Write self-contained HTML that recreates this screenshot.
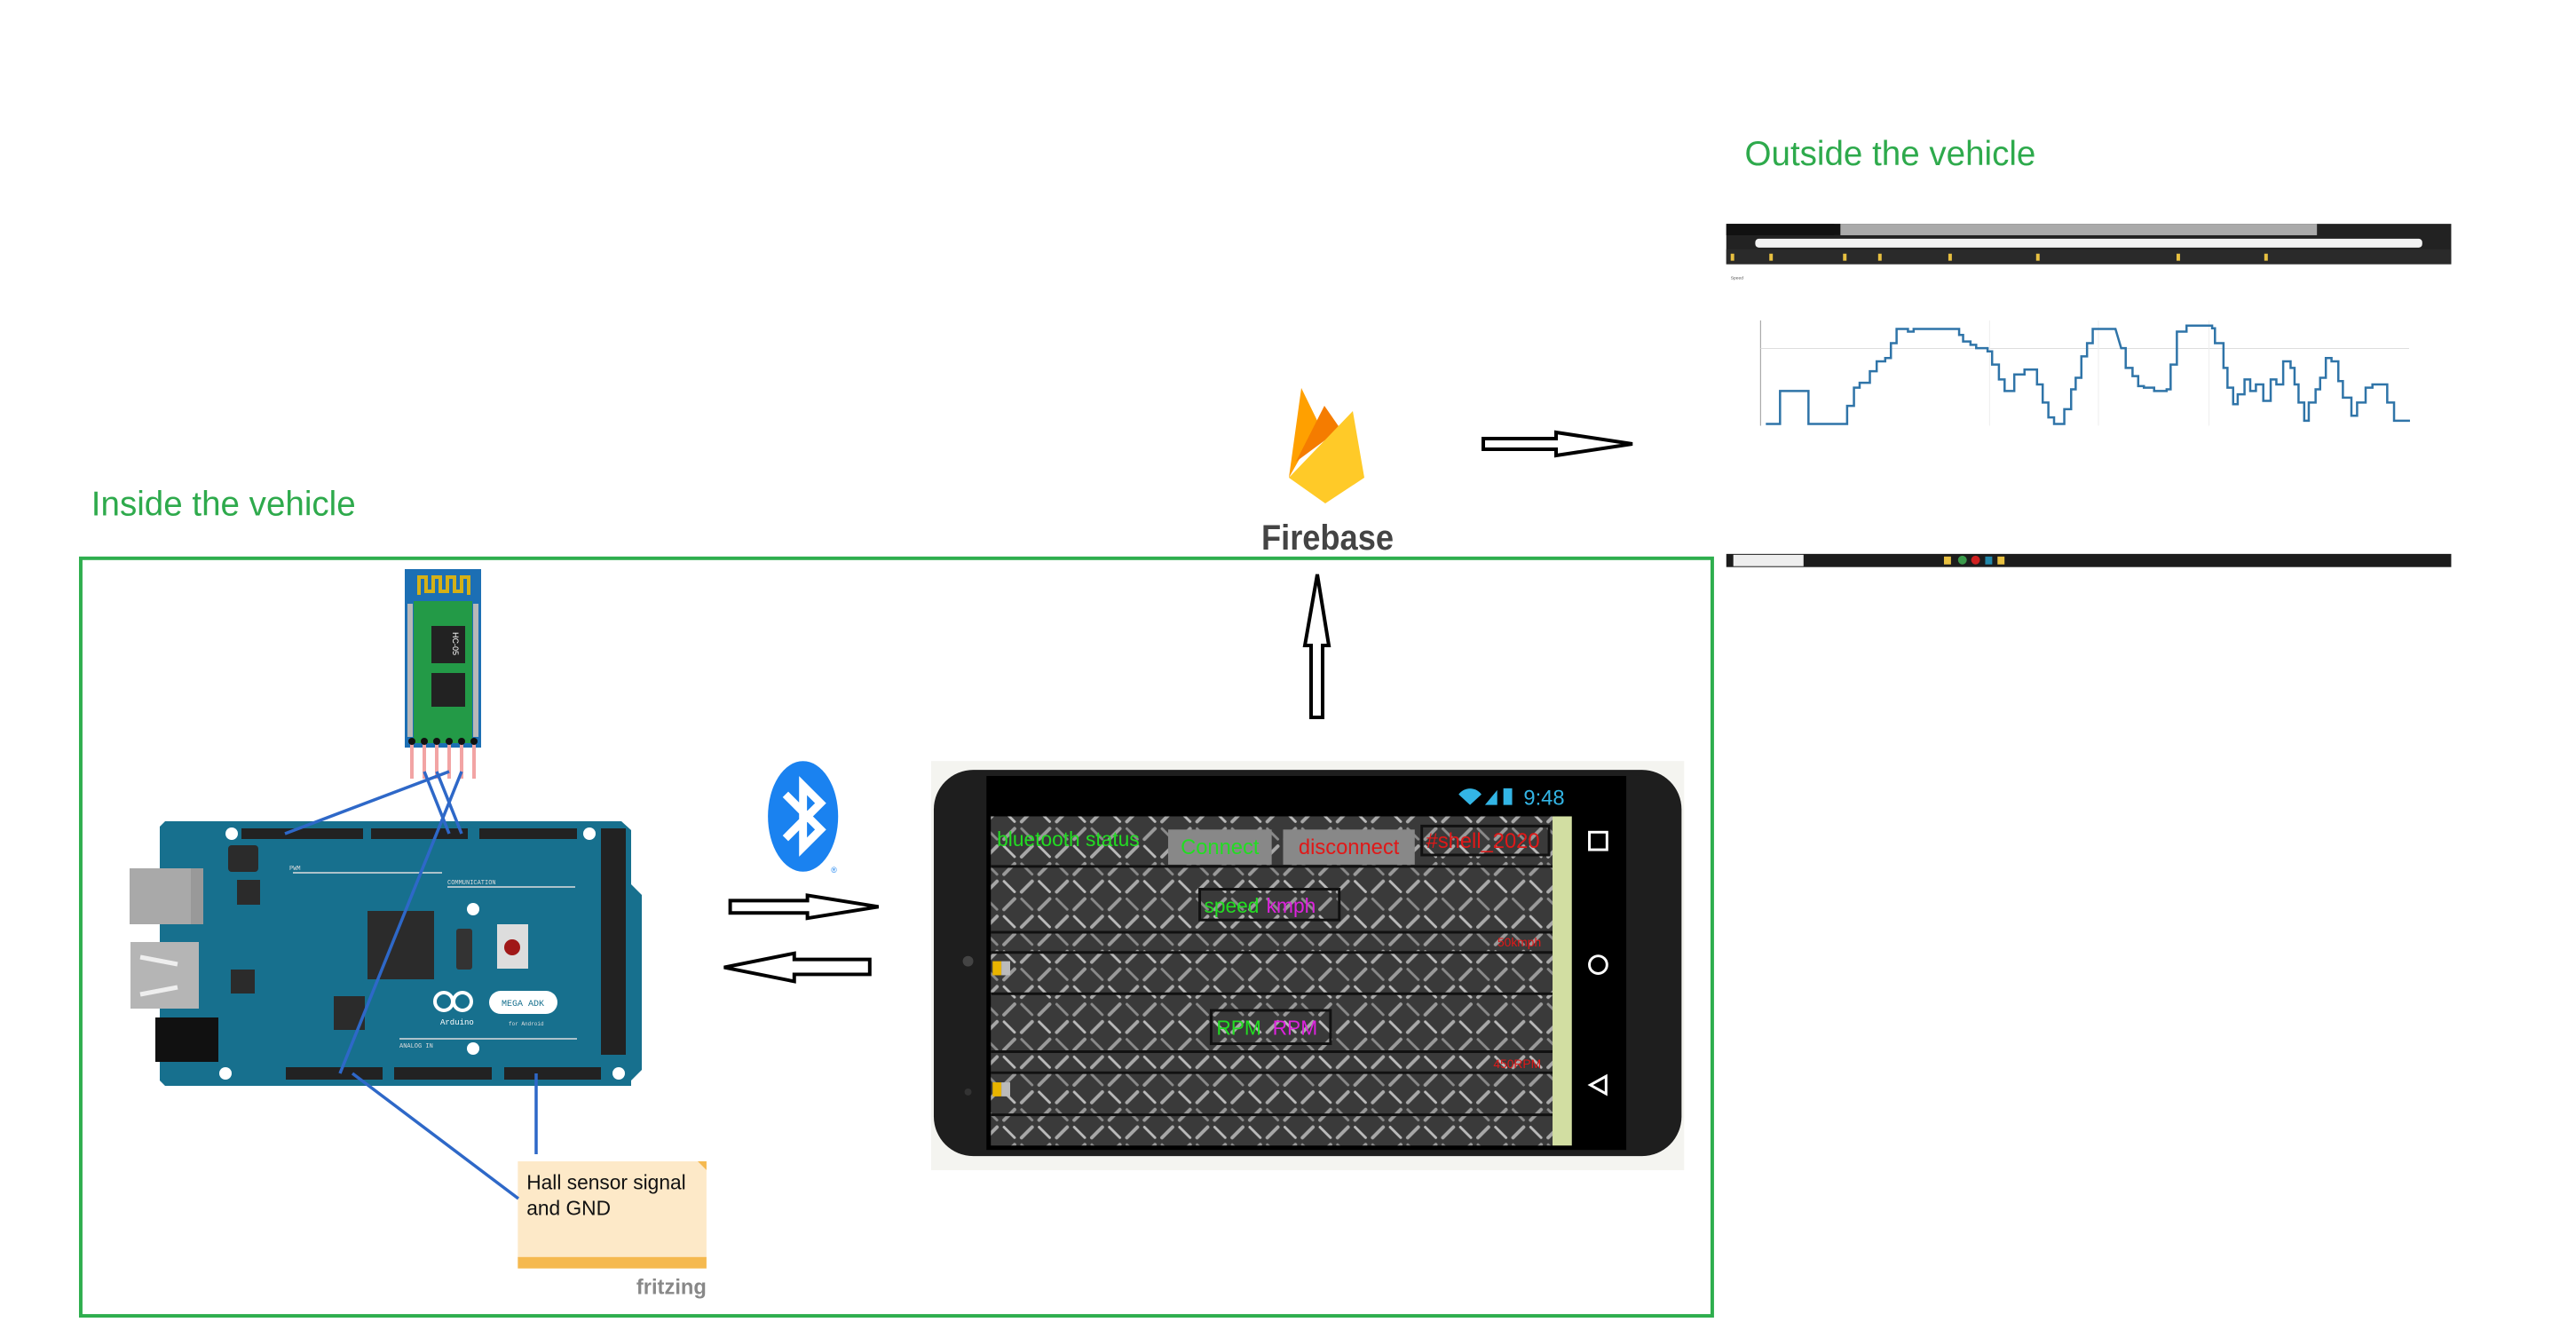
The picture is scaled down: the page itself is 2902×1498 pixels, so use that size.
<!DOCTYPE html>
<html><head><meta charset="utf-8"><style>html,body{margin:0;padding:0;background:#fff}svg{display:block}</style></head>
<body>
<svg width="2902" height="1498" viewBox="0 0 2902 1498" xmlns="http://www.w3.org/2000/svg" font-family="Liberation Sans, sans-serif">
<defs>
<pattern id="metal" width="40" height="40" patternUnits="userSpaceOnUse">
<rect width="40" height="40" fill="#3a3a3a"/>
<line x1="4" y1="16" x2="16" y2="4" stroke="#a8a8a8" stroke-width="4" stroke-linecap="round"/>
<line x1="24" y1="36" x2="36" y2="24" stroke="#9a9a9a" stroke-width="4" stroke-linecap="round"/>
<line x1="24" y1="4" x2="36" y2="16" stroke="#bbbbbb" stroke-width="3" stroke-linecap="round"/>
<line x1="4" y1="24" x2="16" y2="36" stroke="#8a8a8a" stroke-width="3" stroke-linecap="round"/>
</pattern>
</defs>
<rect width="2902" height="1498" fill="#fff"/>

<g transform="scale(0.9887)">
<text x="104" y="587" font-size="39" fill="#2eaa4c">Inside the vehicle</text>
<text x="1988" y="188" font-size="39" fill="#2eaa4c">Outside the vehicle</text>

<rect x="92" y="636" width="1859" height="863" fill="none" stroke="#2fae4e" stroke-width="4"/>

<rect x="590" y="1323" width="215" height="110" fill="#fde9c8"/>
<rect x="590" y="1432" width="215" height="13" fill="#f5b94f"/>
<polygon points="795,1323 805,1323 805,1333" fill="#f5b94f"/>
<text x="600" y="1355" font-size="23" fill="#111">Hall sensor signal</text>
<text x="600" y="1384" font-size="23" fill="#111">and GND</text>
<text x="805" y="1474" font-size="24" fill="#888" text-anchor="end" font-weight="bold">fritzing</text>

<ellipse cx="915" cy="930" rx="40" ry="63" fill="#1a82f0"/>
<path d="M895,905 L935,945 L915,965 V895 L935,915 L895,955" fill="none" stroke="#fff" stroke-width="9" stroke-linejoin="miter"/>
<text x="947" y="994" font-size="9" fill="#1a82f0">®</text>

<g fill="#fff" stroke="#000" stroke-width="4" stroke-linejoin="miter">
<polygon points="832,1026 920,1026 920,1020 1001,1033 920,1046 920,1040 832,1040"/>
<polygon points="991,1093 905,1093 905,1086 825,1102 905,1118 905,1110 991,1110"/>
</g>

<rect x="1061" y="867" width="858" height="466" fill="#f4f4f0"/>
<rect x="1064" y="877" width="852" height="440" rx="45" fill="#1e1e1e"/>
<rect x="1124" y="884" width="729" height="426" fill="#000"/>
<rect x="1129" y="930" width="640" height="375" fill="url(#metal)"/>
<g fill="none" stroke="#111" stroke-width="3">
<line x1="1129" y1="987" x2="1769" y2="987"/><line x1="1129" y1="1062" x2="1769" y2="1062"/>
<line x1="1129" y1="1085" x2="1769" y2="1085"/><line x1="1129" y1="1132" x2="1769" y2="1132"/>
<line x1="1129" y1="1198" x2="1769" y2="1198"/><line x1="1129" y1="1222" x2="1769" y2="1222"/><line x1="1129" y1="1270" x2="1769" y2="1270"/>
</g>
<rect x="1769" y="930" width="22" height="375" fill="#d2dea2"/>
<text x="1136" y="964" font-size="23" fill="#22dd22">bluetooth status</text>
<rect x="1331" y="945" width="118" height="40" fill="#888"/>
<text x="1390" y="973" font-size="24" fill="#22dd22" text-anchor="middle">Connect</text>
<rect x="1462" y="945" width="150" height="40" fill="#888"/>
<text x="1537" y="973" font-size="24" fill="#e01818" text-anchor="middle">disconnect</text>
<rect x="1620" y="941" width="145" height="33" fill="none" stroke="#111" stroke-width="3"/>
<text x="1625" y="966" font-size="24" fill="#e01818">#shell_2020</text>
<rect x="1367" y="1013" width="159" height="35" fill="none" stroke="#111" stroke-width="3"/>
<text x="1372" y="1040" font-size="23" fill="#22dd22">speed</text><text x="1443" y="1040" font-size="23" fill="#dd22dd">kmph</text>
<text x="1756" y="1078" font-size="14" fill="#e01818" text-anchor="end">50kmph</text>
<rect x="1380" y="1151" width="136" height="38" fill="none" stroke="#111" stroke-width="3"/>
<text x="1386" y="1179" font-size="23" fill="#22dd22">RPM</text><text x="1450" y="1179" font-size="23" fill="#dd22dd">RPM</text>
<text x="1756" y="1217" font-size="14" fill="#e01818" text-anchor="end">450RPM</text>
<rect x="1131" y="1095" width="10" height="16" fill="#e8b400"/><rect x="1141" y="1095" width="10" height="16" fill="#bbb"/>
<rect x="1131" y="1233" width="10" height="16" fill="#e8b400"/><rect x="1141" y="1233" width="10" height="16" fill="#bbb"/>
<text x="1736" y="917" font-size="24" fill="#33b5e5">9:48</text>
<path d="M1662,905 a16,16 0 0 1 26,0 l-13,12z" fill="#33b5e5"/>
<polygon points="1692,917 1706,917 1706,900" fill="#33b5e5"/>
<rect x="1713" y="898" width="10" height="19" fill="#33b5e5"/>
<rect x="1811" y="948" width="20" height="20" fill="none" stroke="#fff" stroke-width="3"/>
<circle cx="1821" cy="1099" r="10" fill="none" stroke="#fff" stroke-width="3"/>
<polygon points="1812,1236 1830,1226 1830,1246" fill="none" stroke="#fff" stroke-width="3"/>
<circle cx="1103" cy="1095" r="6" fill="#444"/><circle cx="1103" cy="1244" r="4" fill="#333"/>

<rect x="1967" y="255" width="826" height="46" fill="#222"/>
<rect x="2090" y="255" width="550" height="13" fill="#aaa"/>
<rect x="1967" y="255" width="130" height="13" fill="#111"/>
<rect x="2000" y="272" width="760" height="10" rx="4" fill="#f2f2f2"/>
<rect x="1967" y="284" width="826" height="17" fill="#2a2a2a"/>
<g fill="#e8c040"><rect x="1972" y="289" width="4" height="8"/><rect x="2016" y="289" width="4" height="8"/><rect x="2100" y="289" width="4" height="8"/><rect x="2140" y="289" width="4" height="8"/><rect x="2220" y="289" width="4" height="8"/><rect x="2320" y="289" width="4" height="8"/><rect x="2480" y="289" width="4" height="8"/><rect x="2580" y="289" width="4" height="8"/></g>
<text x="1972" y="318" font-size="5" fill="#555">Speed</text>
<line x1="2006" y1="365" x2="2006" y2="485" stroke="#999" stroke-width="1"/>
<line x1="2006" y1="397" x2="2745" y2="397" stroke="#ddd" stroke-width="1"/>
<line x1="2267" y1="365" x2="2267" y2="485" stroke="#eee" stroke-width="1"/>
<line x1="2391" y1="365" x2="2391" y2="485" stroke="#eee" stroke-width="1"/>
<line x1="2517" y1="365" x2="2517" y2="485" stroke="#eee" stroke-width="1"/>
<g transform="translate(1918.1,99.6) scale(0.6478,0.3759)">
<polyline fill="none" stroke="#2f74a8" stroke-width="2.5" vector-effect="non-scaling-stroke" points="145,1020 170,1020 170,920 220,920 220,1020 288,1020 288,965 300,965 300,910 310,910 310,895 328,895 328,860 340,860 340,830 355,830 355,820 365,820 365,775 375,775 375,732 395,732 395,740 405,740 405,732 485,732 485,750 492,750 492,770 505,770 505,780 515,780 515,790 535,790 535,800 543,800 543,840 555,840 555,885 565,885 565,920 582,920 582,870 600,870 600,855 622,855 622,900 632,900 632,955 642,955 642,1000 652,1000 652,1020 670,1020 670,975 682,975 682,915 690,915 690,880 700,880 700,815 710,815 710,775 720,775 720,732 760,732 770,790 778,790 778,850 790,850 790,875 800,875 800,905 810,905 810,910 828,910 828,920 850,920 850,915 857,915 857,840 868,840 868,740 885,740 885,722 930,722 930,730 935,730 935,775 950,775 950,850 957,850 957,910 967,910 967,960 975,960 975,930 987,930 987,885 997,885 997,920 1007,920 1007,900 1020,900 1020,950 1033,950 1033,885 1043,885 1043,900 1055,900 1055,830 1068,830 1068,850 1075,850 1075,900 1082,900 1082,955 1092,955 1092,1010 1100,1010 1100,955 1112,955 1112,915 1120,915 1120,880 1130,880 1130,820 1140,820 1140,830 1152,830 1152,890 1160,890 1160,940 1175,940 1175,995 1185,995 1185,955 1200,955 1200,910 1212,910 1212,900 1238,900 1238,955 1250,955 1250,1010 1278,1010"/>
</g>
<rect x="1967" y="631" width="826" height="15" fill="#1c1c1c"/>
<rect x="1975" y="632" width="80" height="13" fill="#eee"/>
<g><rect x="2215" y="634" width="8" height="9" fill="#e8c040"/><circle cx="2236" cy="638" r="5" fill="#3a9a4a"/><circle cx="2251" cy="638" r="5" fill="#d02020"/><rect x="2262" y="634" width="8" height="9" fill="#28a"/><rect x="2276" y="634" width="8" height="9" fill="#e8c040"/></g>
</g>

<!-- top arrows (absolute) -->
<g fill="#fff" stroke="#000" stroke-width="4" stroke-linejoin="miter">
<polygon points="1671,494 1753,494 1753,487 1839,500 1753,513 1753,506 1671,506"/>
<polygon points="1477,808 1477,727 1470,727 1484,647 1497,727 1490,727 1490,808"/>
</g>

<!-- Firebase -->
<polygon points="1452,538 1466,437 1486,478" fill="#ffa000"/>
<polygon points="1460,520 1492,457 1510,483" fill="#f57c00"/>
<polygon points="1452,538 1524,463 1537,538 1493,567" fill="#ffca28"/>
<text x="1421" y="619" font-size="40" fill="#444" textLength="149" lengthAdjust="spacingAndGlyphs" font-weight="bold">Firebase</text>

<!-- Arduino board -->
<polygon points="186,925 700,925 711,935 711,996 723,1008 723,1205 711,1217 711,1223 186,1223 180,1217 180,931" fill="#17708e"/>
<rect x="146" y="978" width="83" height="63" fill="#a9a9a9"/><rect x="215" y="978" width="14" height="63" fill="#999"/>
<rect x="147" y="1061" width="77" height="75" fill="#b5b5b5"/>
<path d="M158,1078 L200,1086 M158,1120 L200,1112" stroke="#eee" stroke-width="5"/>
<rect x="175" y="1146" width="71" height="50" fill="#111"/>
<rect x="414" y="1026" width="75" height="77" fill="#2b2b2b"/>
<rect x="267" y="991" width="26" height="28" fill="#2b2b2b"/>
<rect x="260" y="1092" width="27" height="27" fill="#2b2b2b"/>
<rect x="376" y="1122" width="35" height="38" fill="#2b2b2b"/>
<rect x="257" y="952" width="34" height="30" rx="4" fill="#2b2b2b"/>
<rect x="514" y="1046" width="18" height="46" rx="3" fill="#333"/>
<g fill="#222"><rect x="272" y="933" width="137" height="12"/><rect x="418" y="933" width="109" height="12"/><rect x="540" y="933" width="110" height="12"/>
<rect x="322" y="1202" width="109" height="14"/><rect x="444" y="1202" width="110" height="14"/><rect x="568" y="1202" width="109" height="14"/>
<rect x="677" y="933" width="28" height="255"/></g>
<g fill="#fff"><circle cx="261" cy="939" r="7"/><circle cx="664" cy="939" r="7"/><circle cx="533" cy="1024" r="7"/><circle cx="533" cy="1181" r="7"/><circle cx="254" cy="1209" r="7"/><circle cx="697" cy="1209" r="7"/></g>
<line x1="330" y1="983" x2="498" y2="983" stroke="#ddd" stroke-width="1.5"/>
<line x1="504" y1="999" x2="648" y2="999" stroke="#ddd" stroke-width="1.5"/>
<line x1="450" y1="1170" x2="650" y2="1170" stroke="#ddd" stroke-width="1.5"/>
<text x="326" y="980" font-size="7" fill="#ddd" font-family="Liberation Mono, monospace">PWM</text>
<text x="504" y="996" font-size="7" fill="#ddd" font-family="Liberation Mono, monospace">COMMUNICATION</text>
<text x="450" y="1180" font-size="7" fill="#ddd" font-family="Liberation Mono, monospace">ANALOG IN</text>
<rect x="560" y="1041" width="35" height="50" fill="#ddd"/><circle cx="577" cy="1067" r="9" fill="#a01818"/>
<g fill="none" stroke="#fff" stroke-width="4"><circle cx="500" cy="1128" r="10"/><circle cx="521" cy="1128" r="10"/></g>
<text x="496" y="1154" font-size="9" fill="#fff" font-family="Liberation Mono, monospace">Arduino</text>
<rect x="551" y="1116" width="77" height="26" rx="13" fill="#fff"/>
<text x="589" y="1133" font-size="10" fill="#17708e" text-anchor="middle" font-family="Liberation Mono, monospace">MEGA ADK</text>
<text x="573" y="1155" font-size="6" fill="#ddd" font-family="Liberation Mono, monospace">for Android</text>

<!-- HC-05 -->
<rect x="456" y="641" width="86" height="201" fill="#1c6fb4"/>
<rect x="466" y="677" width="66" height="160" fill="#239a47"/>
<path d="M472,670 V650 H480 V666 H488 V650 H496 V666 H504 V650 H512 V666 H520 V650 H528 V670" fill="none" stroke="#d4b017" stroke-width="4"/>
<rect x="486" y="705" width="38" height="42" fill="#222"/>
<text x="510" y="712" font-size="9" fill="#fff" transform="rotate(90 510 712)">HC-05</text>
<rect x="486" y="758" width="38" height="38" fill="#222"/>
<g fill="#b8b8b8"><rect x="459" y="680" width="6" height="150"/><rect x="533" y="680" width="6" height="150"/></g>
<g stroke="#f2a4a4" stroke-width="4"><line x1="464" y1="835" x2="464" y2="877"/><line x1="478" y1="835" x2="478" y2="877"/><line x1="492" y1="835" x2="492" y2="877"/><line x1="506" y1="835" x2="506" y2="877"/><line x1="520" y1="835" x2="520" y2="877"/><line x1="534" y1="835" x2="534" y2="877"/></g>
<g fill="#111"><circle cx="464" cy="835" r="4"/><circle cx="478" cy="835" r="4"/><circle cx="492" cy="835" r="4"/><circle cx="506" cy="835" r="4"/><circle cx="520" cy="835" r="4"/><circle cx="534" cy="835" r="4"/></g>

<g stroke="#2e68c8" stroke-width="3.5" fill="none">
<line x1="506" y1="869" x2="321" y2="939"/>
<line x1="478" y1="869" x2="506" y2="939"/>
<line x1="492" y1="869" x2="520" y2="939"/>
<line x1="520" y1="869" x2="383" y2="1209"/>
<line x1="397" y1="1209" x2="584" y2="1350"/>
<line x1="604" y1="1209" x2="604" y2="1300"/>
</g>
</svg>
</body></html>
